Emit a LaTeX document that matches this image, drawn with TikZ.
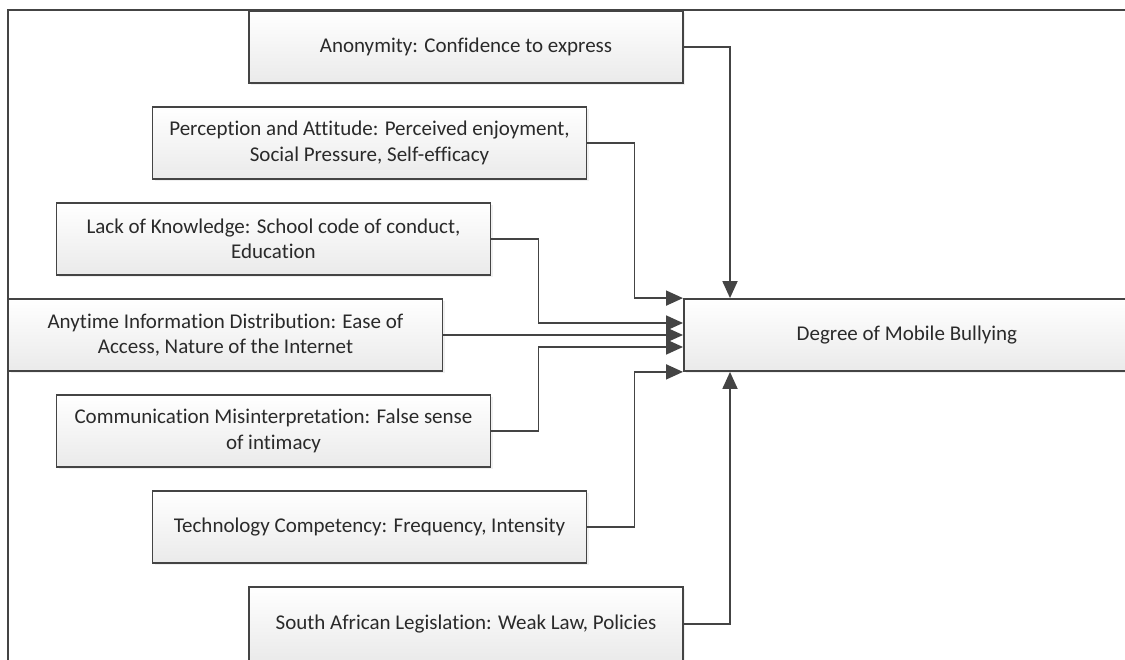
\documentclass[tikz,border=0pt]{standalone}
\usepackage{fontspec}
\setmainfont{Carlito}[Ligatures=NoCommon]
\usetikzlibrary{arrows.meta,positioning,calc,shadows}
\definecolor{LN}{HTML}{444444}
\definecolor{TX}{HTML}{2A2A2A}
\definecolor{BG}{HTML}{EAEAEA}

\begin{document}
\begin{tikzpicture}[x=1pt,y=-1pt,
    factor/.style={draw=LN, line width=1.8pt,
      top color=white, bottom color=BG,
      minimum width=434pt, minimum height=72pt,
      inner sep=0pt, align=center, text=TX,
      font=\fontsize{21}{25.5}\selectfont,
      drop shadow={opacity=0.12, shadow xshift=2pt, shadow yshift=-2pt}},
    flow/.style={draw=LN, line width=1.8pt,
      -{Triangle[length=17pt,width=15pt]}}]
  \useasboundingbox (0,0) rectangle (1125,660);
  % outer frame
  \draw[LN, line width=1.8pt] (8,665) -- (8,10) -- (1130,10);

  \node[factor] (anon) at (466,47) {Anonymity: Confidence to express};
  \node[factor] (percep) at (369.5,143)
    {Perception and Attitude: Perceived enjoyment,\\Social Pressure, Self-efficacy};
  \node[factor] (lack) at (273.5,239)
    {Lack of Knowledge: School code of conduct,\\Education};
  \node[factor] (anytime) at (225.5,335)
    {Anytime Information Distribution: Ease of\\Access, Nature of the Internet};
  \node[factor] (comm) at (273.5,431)
    {Communication Misinterpretation: False sense\\of intimacy};
  \node[factor] (tech) at (369.5,527) {Technology Competency: Frequency, Intensity};
  \node[factor, minimum height=74pt] (legis) at (466,624)
    {South African Legislation: Weak Law, Policies};

  \node[factor, minimum width=446pt, anchor=west] (deg) at (683,335)
    {Degree of Mobile Bullying};

  % connectors
  \draw[flow] (anon.east) -| ([xshift=47pt]deg.north west);
  \draw[flow] (percep.east) -- ++(47,0) |- (deg.north west);
  \draw[flow] (lack.east) -- ++(47,0) |- ([yshift=12pt]deg.west);
  \draw[flow] (anytime.east) -- (deg.west);
  \draw[flow] (comm.east) -- ++(47,0) |- ([yshift=-12pt]deg.west);
  \draw[flow] (tech.east) -- ++(47,0) |- (deg.south west);
  \draw[flow] (legis.east) -| ([xshift=47pt]deg.south west);
\end{tikzpicture}
\end{document}
